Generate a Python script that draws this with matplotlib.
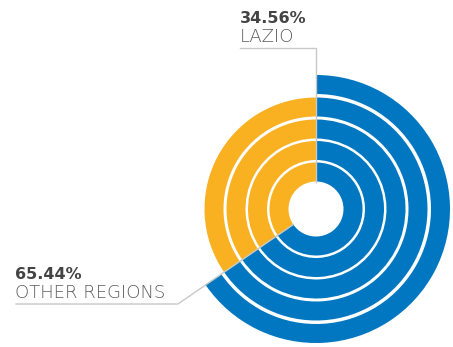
import matplotlib.pyplot as plt

# Quota per regione
regions = ["OTHER REGIONS", "LAZIO"]
shares = [65.44, 34.56]
colors = ["#0077c0", "#f9b122"]

# Anelli concentrici (raggio esterno in px); l'anello esterno mostra solo "altre regioni"
ring_outer = [46.5, 68, 89.5, 111.5, 134]
ring_show_lazio = [True, True, True, True, False]
RING_W = 19
HOLE = ring_outer[0] - RING_W

CX, CY = 316, 209  # centro in pixel

fig = plt.figure(figsize=(4.53, 3.47), dpi=100)
ax = fig.add_axes([0, 0, 1, 1])

for r, show in zip(ring_outer, ring_show_lazio):
    cols = [colors[0], colors[1] if show else "none"]
    ax.pie(shares, radius=r, center=(0, 0), startangle=90, counterclock=False,
           colors=cols, wedgeprops=dict(width=RING_W, linewidth=0))

# Linee guida lungo i bordi degli spicchi (si fermano al foro centrale)
line_col = "#c8c8c8"
ux, uy = -0.8253, -0.5647  # direzione del bordo a 214.4 gradi
ax.plot([240 - CX, 0, 0], [CY - 48, CY - 48, HOLE], color=line_col, lw=1, zorder=5)
ax.plot([16 - CX, 178 - CX, ux * HOLE], [CY - 304, CY - 304, uy * HOLE],
        color=line_col, lw=1, zorder=5)

# Etichette
bold_kw = dict(fontsize=11.5, fontweight="bold", color="#444444", family="DejaVu Sans", va="baseline")
light_kw = dict(fontsize=13, fontweight="light", color="#5a5a5a", family="DejaVu Sans", va="baseline")

ax.text(240 - CX, CY - 23, f"{shares[1]:.2f}%", **bold_kw)
ax.text(240 - CX, CY - 42, regions[1], **light_kw)
ax.text(15 - CX, CY - 279, f"{shares[0]:.2f}%", **bold_kw)
ax.text(15 - CX, CY - 298, regions[0], **light_kw)

ax.set_xlim(-CX, 453 - CX)
ax.set_ylim(CY - 347, CY)
ax.set_aspect("auto")
ax.axis("off")

fig.savefig("out.png", dpi=100)
